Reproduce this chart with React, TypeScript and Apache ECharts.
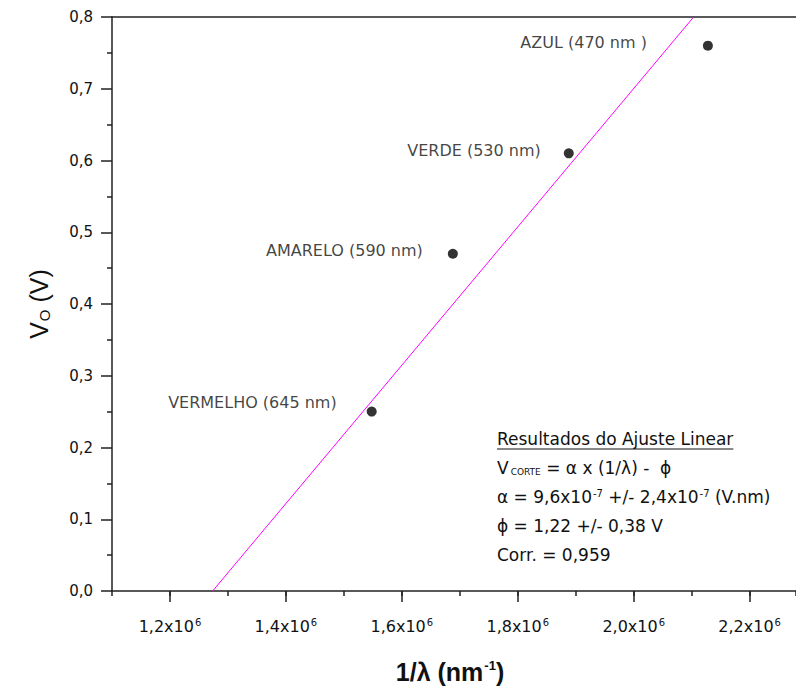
import React, { useEffect, useRef } from "react";
import * as echarts from "echarts";

// Measured points (1/lambda in nm^-1, stopping voltage in V)
const pointNames = ["VERMELHO (645 nm)", "AMARELO (590 nm)", "VERDE (530 nm)", "AZUL (470 nm )"];
const inverseLambda = [1.548e6, 1.688e6, 1.888e6, 2.128e6];
const voltage = [0.25, 0.47, 0.61, 0.76];

// Linear fit line endpoints
const fitX = [1.2736e6, 2.1034e6];
const fitY = [0, 0.8];

// Tick labels on the x axis (major ticks)
const xMajorTicks = [1.2e6, 1.4e6, 1.6e6, 1.8e6, 2.0e6, 2.2e6];

// Fit results text
const resultTitle = "Resultados do Ajuste Linear";
const resultLines = [
  "V{sub|CORTE} = α x (1/λ) -  ϕ",
  "α = 9,6x10{sup|-7} +/- 2,4x10{sup|-7} (V.nm)",
  "ϕ = 1,22 +/- 0,38 V",
  "Corr. = 0,959",
];

// label placement styles per point (not data)
const labelDistances = [30, 25, 23, 56];
const labelOffsetsY = [-9, -3, -3, -3];

const FONT = "Liberation Sans, Arial, sans-serif";
const FONT_W = "DejaVu Sans, sans-serif";
const AXIS_COLOR = "#222";
const X_MIN = 1.1e6;
const X_MAX = 2.28e6;
const RES_SIZE = 17;

function measure(text: string, size: number, family: string) {
  const c = document.createElement("canvas").getContext("2d");
  if (!c) return text.length * size * 0.55;
  c.font = `${size}px ${family}`;
  return c.measureText(text).width;
}

export default function App() {
  const ref = useRef<HTMLDivElement>(null);
  useEffect(() => {
    if (!ref.current) return;
    const chart = echarts.init(ref.current, undefined, { renderer: "svg" });
    const fmtX = (v: number) => {
      const k = Math.round(v / 1e5);
      if (k % 2 !== 0) return "";
      return (v / 1e6).toFixed(1).replace(".", ",") + "x10{sup|6}";
    };
    const scatterData = inverseLambda.map((x, i) => ({
      name: pointNames[i],
      value: [x, voltage[i]],
      label: {
        show: true,
        position: "left",
        distance: labelDistances[i],
        offset: [0, labelOffsetsY[i]],
        formatter: "{b}",
        color: "#111",
        fontFamily: FONT_W,
        fontSize: 16,
      },
    }));
    const lineGap = 29;
    const richRes = {
      sub: { fontSize: 9, verticalAlign: "bottom", padding: [8, 0, 0, 2], fontFamily: FONT_W, fill: "#111" },
      sup: { fontSize: 10, verticalAlign: "top", padding: [0, 0, 8, 1], fontFamily: FONT_W, fill: "#111" },
    };
    const allLines = [resultTitle, ...resultLines];
    const graphics: any[] = allLines.map((t, i) => ({
      type: "text",
      left: 497,
      top: 430 + i * lineGap,
      silent: true,
      style: {
        text: t,
        fontFamily: FONT_W,
        fontSize: RES_SIZE,
        fill: "#111",
        rich: richRes,
      },
    }));
    const titleW = measure(resultTitle, RES_SIZE, "DejaVu Sans");
    graphics.push({
      type: "line",
      silent: true,
      shape: { x1: 497, y1: 449, x2: 497 + titleW, y2: 449 },
      style: { stroke: "#111", lineWidth: 1 },
    });
    chart.setOption({
      animation: false,
      backgroundColor: "#fff",
      grid: {
        left: 112,
        top: 17,
        right: 0,
        bottom: 94,
        show: false,
        containLabel: false,
      },
      xAxis: [
        {
          type: "value",
          min: X_MIN,
          max: X_MAX,
          interval: 1e5,
          position: "bottom",
          name: "1/λ (nm{sup|-1})",
          nameLocation: "middle",
          nameGap: 68,
          nameTextStyle: {
            fontFamily: FONT,
            fontSize: 25,
            fontWeight: "bold",
            color: "#111",
            padding: [0, 8, 0, 0],
            rich: {
              sup: { fontSize: 13, fontWeight: "bold", verticalAlign: "top", padding: [0, 0, 11, 1], fontFamily: FONT, color: "#111" },
            },
          },
          axisLine: { show: true, lineStyle: { color: AXIS_COLOR, width: 1.5 } },
          axisTick: { show: true, length: 5, inside: false, lineStyle: { color: AXIS_COLOR, width: 1.5 } },
          splitLine: { show: false },
          axisLabel: {
            show: true,
            customValues: xMajorTicks,
            formatter: fmtX,
            margin: 26,
            color: "#111",
            fontFamily: FONT_W,
            fontSize: 16,
            rich: {
              sup: { fontSize: 10, verticalAlign: "top", padding: [0, 0, 8, 1], fontFamily: FONT_W, color: "#111" },
            },
          },
        },
        {
          type: "value",
          min: X_MIN,
          max: X_MAX,
          interval: 1e5,
          position: "bottom",
          axisLine: { show: false },
          axisTick: { show: true, customValues: xMajorTicks, length: 11, lineStyle: { color: AXIS_COLOR, width: 1.5 } },
          axisLabel: { show: false },
          splitLine: { show: false },
        },
        {
          type: "value",
          min: X_MIN,
          max: X_MAX,
          position: "top",
          axisLine: { show: true, onZero: false, lineStyle: { color: AXIS_COLOR, width: 1.5 } },
          axisTick: { show: false },
          axisLabel: { show: false },
          splitLine: { show: false },
        },
      ],
      yAxis: {
        type: "value",
        min: 0,
        max: 0.8,
        interval: 0.1,
        name: "V{sub|O} (V)",
        nameLocation: "middle",
        nameGap: 60,
        nameRotate: 90,
        nameTextStyle: {
          fontFamily: FONT,
          fontSize: 25,
          color: "#111",
          rich: {
            sub: { fontSize: 15, verticalAlign: "bottom", padding: [11, 0, 0, 1], fontFamily: FONT, color: "#111" },
          },
        },
        axisLine: { show: true, lineStyle: { color: AXIS_COLOR, width: 1.5 } },
        axisTick: { show: true, length: 11, lineStyle: { color: AXIS_COLOR, width: 1.5 } },
        minorTick: { show: true, splitNumber: 2, length: 5, lineStyle: { color: AXIS_COLOR, width: 1.5 } },
        splitLine: { show: false },
        minorSplitLine: { show: false },
        axisLabel: {
          margin: 19,
          color: "#111",
          fontFamily: FONT_W,
          fontSize: 15,
          formatter: (v: number) => v.toFixed(1).replace(".", ","),
        },
      },
      series: [
        {
          type: "line",
          name: "Ajuste linear",
          data: fitX.map((x, i) => [x, fitY[i]]),
          symbol: "none",
          lineStyle: { color: "#ff00ff", width: 1 },
          silent: true,
          z: 2,
        },
        {
          type: "scatter",
          name: "Dados",
          data: scatterData,
          symbol: "circle",
          symbolSize: 10,
          itemStyle: { color: "#000" },
          z: 3,
        },
      ],
      graphic: graphics,
    });
    return () => chart.dispose();
  }, []);
  return (
    <div
      ref={ref}
      style={{ position: "absolute", left: 0, top: 0, width: 796, height: 689 }}
    />
  );
}
